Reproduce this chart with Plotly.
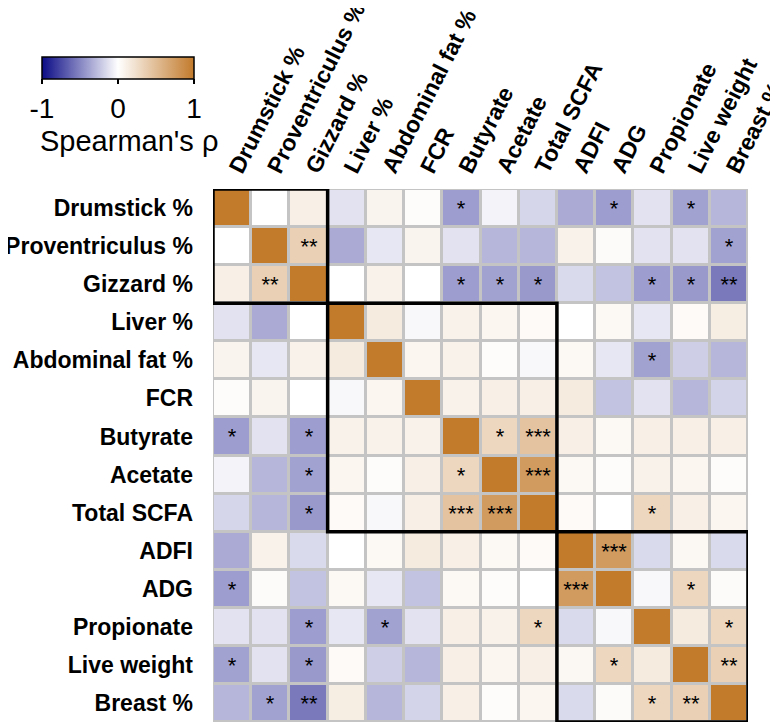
import plotly.graph_objects as go

labels = ["Drumstick %", "Proventriculus %", "Gizzard %", "Liver %", "Abdominal fat %", "FCR",
          "Butyrate", "Acetate", "Total SCFA", "ADFI", "ADG", "Propionate", "Live weight", "Breast %"]

rho = [
    [1.00, 0.00, 0.12, -0.12, 0.08, 0.02, -0.40, -0.05, -0.17, -0.35, -0.40, -0.12, -0.38, -0.30],
    [0.00, 1.00, 0.35, -0.35, -0.10, 0.08, -0.12, -0.30, -0.30, 0.10, 0.03, -0.12, -0.12, -0.38],
    [0.12, 0.35, 1.00, 0.00, 0.10, 0.00, -0.40, -0.38, -0.42, -0.15, -0.25, -0.40, -0.42, -0.55],
    [-0.12, -0.35, 0.00, 1.00, 0.15, -0.03, 0.10, 0.07, 0.04, 0.00, 0.05, -0.10, 0.04, 0.13],
    [0.08, -0.10, 0.10, 0.15, 1.00, 0.07, 0.10, 0.02, -0.03, 0.05, -0.10, -0.38, -0.20, -0.30],
    [0.02, 0.08, 0.00, -0.03, 0.07, 1.00, 0.10, 0.12, 0.12, 0.15, -0.25, -0.12, -0.30, -0.18],
    [-0.40, -0.12, -0.40, 0.10, 0.10, 0.10, 1.00, 0.30, 0.45, 0.12, 0.05, 0.12, 0.12, 0.12],
    [-0.05, -0.30, -0.38, 0.07, 0.02, 0.12, 0.30, 1.00, 0.75, 0.05, 0.02, 0.10, 0.07, 0.02],
    [-0.17, -0.30, -0.42, 0.04, -0.03, 0.12, 0.45, 0.75, 1.00, 0.04, 0.00, 0.30, 0.12, 0.07],
    [-0.35, 0.10, -0.15, 0.00, 0.05, 0.15, 0.12, 0.05, 0.04, 1.00, 0.75, -0.15, 0.06, -0.15],
    [-0.40, 0.03, -0.25, 0.05, -0.10, -0.25, 0.05, 0.02, 0.00, 0.75, 1.00, -0.03, 0.30, 0.03],
    [-0.12, -0.12, -0.40, -0.10, -0.38, -0.12, 0.12, 0.10, 0.30, -0.15, -0.03, 1.00, 0.15, 0.30],
    [-0.38, -0.12, -0.42, 0.04, -0.20, -0.30, 0.12, 0.07, 0.12, 0.06, 0.30, 0.15, 1.00, 0.35],
    [-0.30, -0.38, -0.55, 0.13, -0.30, -0.18, 0.12, 0.02, 0.07, -0.15, 0.03, 0.30, 0.35, 1.00],
]

stars = [
    ["", "", "", "", "", "", "*", "", "", "", "*", "", "*", ""],
    ["", "", "**", "", "", "", "", "", "", "", "", "", "", "*"],
    ["", "**", "", "", "", "", "*", "*", "*", "", "", "*", "*", "**"],
    ["", "", "", "", "", "", "", "", "", "", "", "", "", ""],
    ["", "", "", "", "", "", "", "", "", "", "", "*", "", ""],
    ["", "", "", "", "", "", "", "", "", "", "", "", "", ""],
    ["*", "", "*", "", "", "", "", "*", "***", "", "", "", "", ""],
    ["", "", "*", "", "", "", "*", "", "***", "", "", "", "", ""],
    ["", "", "*", "", "", "", "***", "***", "", "", "", "*", "", ""],
    ["", "", "", "", "", "", "", "", "", "", "***", "", "", ""],
    ["*", "", "", "", "", "", "", "", "", "***", "", "", "*", ""],
    ["", "", "*", "", "*", "", "", "", "*", "", "", "", "", "*"],
    ["*", "", "*", "", "", "", "", "", "", "", "*", "", "", "**"],
    ["", "*", "**", "", "", "", "", "", "", "", "", "*", "**", ""],
]

clusters = [(0, 2), (3, 8), (9, 13)]

n = len(labels)
idx = list(range(n))
FONT = "Liberation Sans"

# plot area in figure pixels (page has an 8px body margin)
L, T, PW, PH = 205, 181, 535, 533

fig = go.Figure(go.Heatmap(
    z=rho, x=idx, y=idx, text=stars, texttemplate="%{text}",
    textfont=dict(size=22, color="black", family=FONT),
    zmin=-1, zmax=1,
    colorscale=[[0, "#0b0b86"], [0.5, "#ffffff"], [1, "#c27a2b"]],
    xgap=3, ygap=3,
    hoverinfo="skip",
    colorbar=dict(
        orientation="h", x=(34 - L) / PW, xanchor="left",
        y=1 + (T - 49) / PH, yanchor="top",
        xpad=0, ypad=0,
        lenmode="pixels", len=152, thickness=22,
        outlinewidth=1.5, outlinecolor="black",
        tickvals=[-1, 0, 1], ticktext=["-1", "0", "1"],
        ticks="outside", ticklen=5, tickcolor="black", tickwidth=1.5,
        tickfont=dict(size=28, color="black", family=FONT),
    ),
))

fig.add_annotation(text="Spearman's ρ", xref="paper", yref="paper",
                   x=(30 - L) / PW, y=1 + (T - 133) / PH,
                   xanchor="left", yanchor="middle", showarrow=False,
                   font=dict(size=29, color="black", family=FONT))

for a, b in clusters:
    fig.add_shape(type="rect", xref="x", yref="y",
                  x0=a - 0.5, x1=b + 0.5, y0=a - 0.5, y1=b + 0.5,
                  line=dict(color="black", width=3.5), fillcolor="rgba(0,0,0,0)")

fig.update_xaxes(side="top", tickvals=idx, ticktext=["<b>%s</b>" % s for s in labels],
                 tickangle=-63, automargin=False, ticklabeloverflow="allow",
                 tickfont=dict(size=23, color="black", family=FONT),
                 showgrid=False, zeroline=False, ticks="", range=[-0.5, n - 0.5],
                 ticklabelstandoff=2)
fig.update_yaxes(tickvals=idx, ticktext=["<b>%s</b>" % s for s in labels],
                 range=[n - 0.5, -0.5], automargin=False, ticklabeloverflow="allow",
                 tickfont=dict(size=23, color="black", family=FONT),
                 showgrid=False, zeroline=False, ticks="", ticklabelstandoff=19)

fig.update_layout(
    width=778, height=725,
    margin=dict(l=L, r=778 - L - PW, t=T, b=725 - T - PH),
    plot_bgcolor="#c4c4c4", paper_bgcolor="white",
    font=dict(family=FONT, color="black"),
)

fig.write_html("out.html")
